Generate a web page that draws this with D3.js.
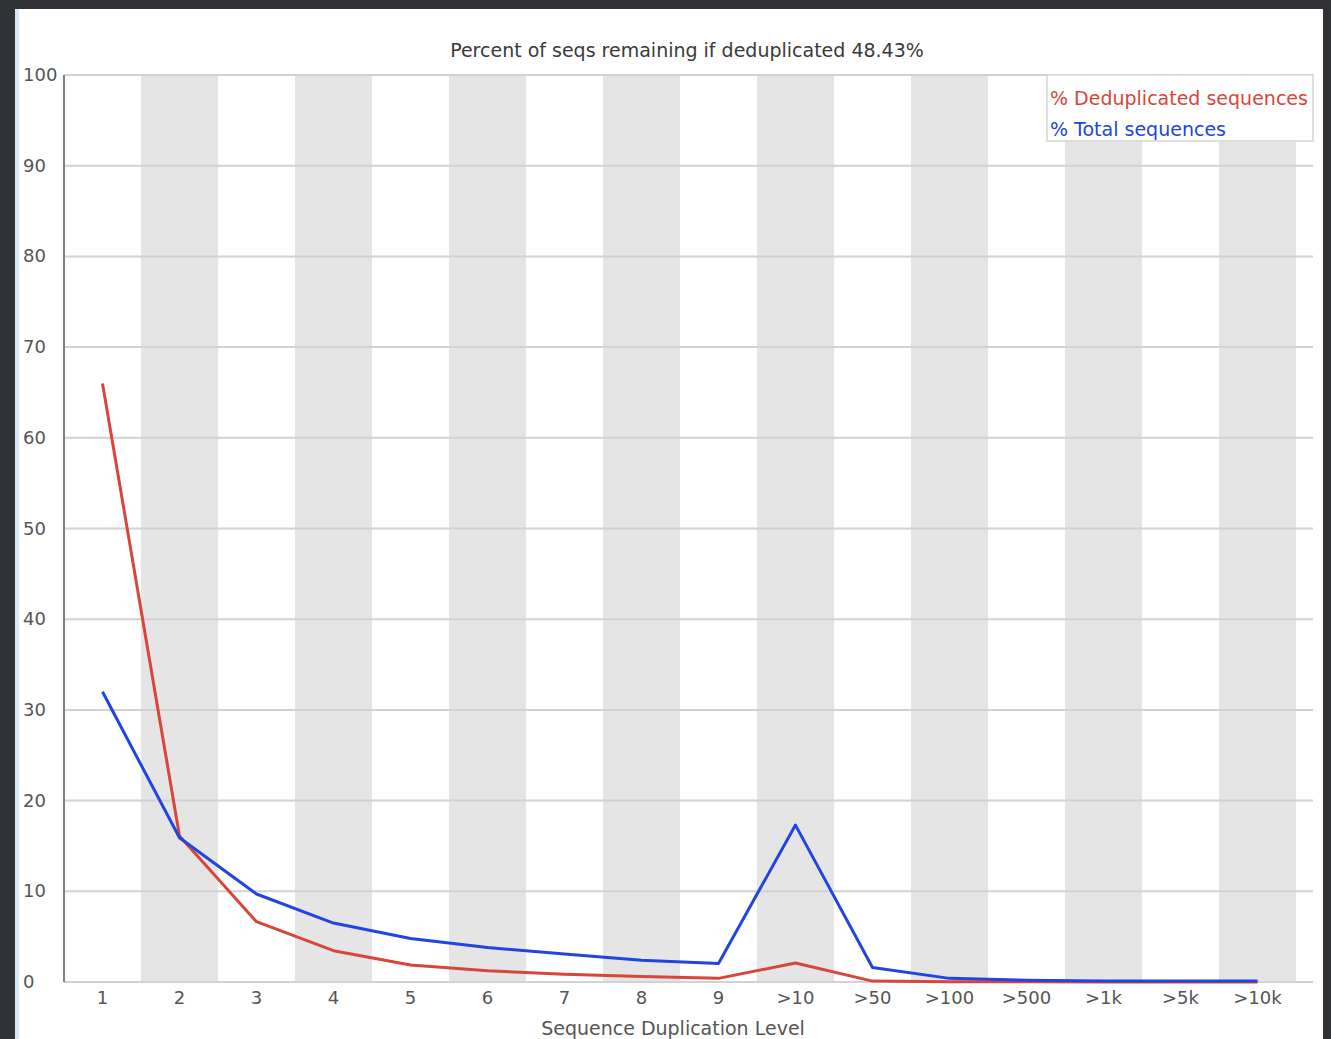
<!DOCTYPE html>
<html>
<head>
<meta charset="utf-8">
<script src="https://cdn.jsdelivr.net/npm/d3@7/dist/d3.min.js"></script>
<style>
  html, body { margin: 0; padding: 0; background: #303236; }
  svg { display: block; }
  text { font-family: "DejaVu Sans", Verdana, sans-serif; }
</style>
</head>
<body>
<svg id="chart" width="1331" height="1039"></svg>
<script>
// Duplication level categories
const levels = ["1", "2", "3", "4", "5", "6", "7", "8", "9", ">10", ">50", ">100", ">500", ">1k", ">5k", ">10k"];
// % of deduplicated sequences per level
const dedupPct = [66.0, 16.1, 6.65, 3.45, 1.87, 1.25, 0.85, 0.6, 0.4, 2.1, 0.1, 0.03, 0.02, 0.01, 0.01, 0.01];
// % of total sequences per level
const totalPct = [32.0, 15.9, 9.7, 6.5, 4.8, 3.8, 3.1, 2.4, 2.05, 17.3, 1.6, 0.4, 0.2, 0.1, 0.1, 0.1];
const yTicks = [0, 10, 20, 30, 40, 50, 60, 70, 80, 90, 100];
const titleText = "Percent of seqs remaining if deduplicated 48.43%";
const xTitle = "Sequence Duplication Level";
const legendLabels = ["% Deduplicated sequences", "% Total sequences"];

(function () {
const svg = d3.select("#chart");
const W = 1331, H = 1039;
const mLeft = 64, mTop = 75, mBottom = 982, bandRight = 1296, plotRight = 1313;
const red = "#d9453a", blue = "#2244e0";

// white panel
svg.append("rect").attr("x", 15).attr("y", 9).attr("width", 1308).attr("height", H - 9).attr("fill", "#ffffff");
svg.append("rect").attr("x", 15).attr("y", 9).attr("width", 4).attr("height", H - 9).attr("fill", "#d6e8fa");

const x = d3.scaleBand().domain(levels).range([mLeft, bandRight]).padding(0);
const y = d3.scaleLinear().domain([0, 100]).range([mBottom, mTop]);
const cx = d => x(d) + x.bandwidth() / 2;

const g = svg.append("g");

// alternating column stripes
g.selectAll("rect.band").data(levels.filter((d, i) => i % 2 === 1)).enter()
  .append("rect").attr("class", "band")
  .attr("x", d => x(d)).attr("y", mTop)
  .attr("width", x.bandwidth()).attr("height", mBottom - mTop)
  .attr("fill", "#e5e5e5");

// horizontal grid
g.selectAll("line.grid").data(yTicks).enter()
  .append("line").attr("class", "grid")
  .attr("x1", mLeft).attr("x2", plotRight)
  .attr("y1", d => y(d)).attr("y2", d => y(d))
  .attr("stroke", "#d2d2d2").attr("stroke-width", 2);

// y axis line
g.append("line").attr("x1", mLeft).attr("x2", mLeft).attr("y1", mTop).attr("y2", mBottom)
  .attr("stroke", "#808080").attr("stroke-width", 2);

// y tick labels
g.selectAll("text.ytick").data(yTicks).enter()
  .append("text").attr("class", "ytick")
  .attr("x", 23).attr("y", d => y(d) + 6)
  .attr("font-size", 18).attr("fill", "#555")
  .text(d => d);

// x tick labels
g.selectAll("text.xtick").data(levels).enter()
  .append("text").attr("class", "xtick")
  .attr("x", d => cx(d)).attr("y", 1004)
  .attr("text-anchor", "middle")
  .attr("font-size", 18).attr("fill", "#555")
  .text(d => d);

// titles
svg.append("text").attr("x", 687).attr("y", 57).attr("text-anchor", "middle")
  .attr("font-size", 19).attr("fill", "#3a3a3a").text(titleText);
svg.append("text").attr("x", 673).attr("y", 1035).attr("text-anchor", "middle")
  .attr("font-size", 19).attr("fill", "#555").text(xTitle);

// series lines
const line = d3.line().x((d, i) => cx(levels[i])).y(d => y(d));
g.append("path").datum(dedupPct).attr("d", line)
  .attr("fill", "none").attr("stroke", red).attr("stroke-width", 3).attr("stroke-linejoin", "round");
g.append("path").datum(totalPct).attr("d", line)
  .attr("fill", "none").attr("stroke", blue).attr("stroke-width", 3).attr("stroke-linejoin", "round");

// legend
const lg = svg.append("g");
lg.append("rect").attr("x", 1047).attr("y", 75).attr("width", 266).attr("height", 66)
  .attr("fill", "#ffffff").attr("stroke", "#d6d6d6").attr("stroke-width", 1.5);
lg.selectAll("text").data(legendLabels).enter().append("text")
  .attr("x", 1050).attr("y", (d, i) => 105 + i * 31)
  .attr("font-size", 19).attr("fill", (d, i) => i === 0 ? red : blue)
  .text(d => d);
})();
</script>
</body>
</html>
